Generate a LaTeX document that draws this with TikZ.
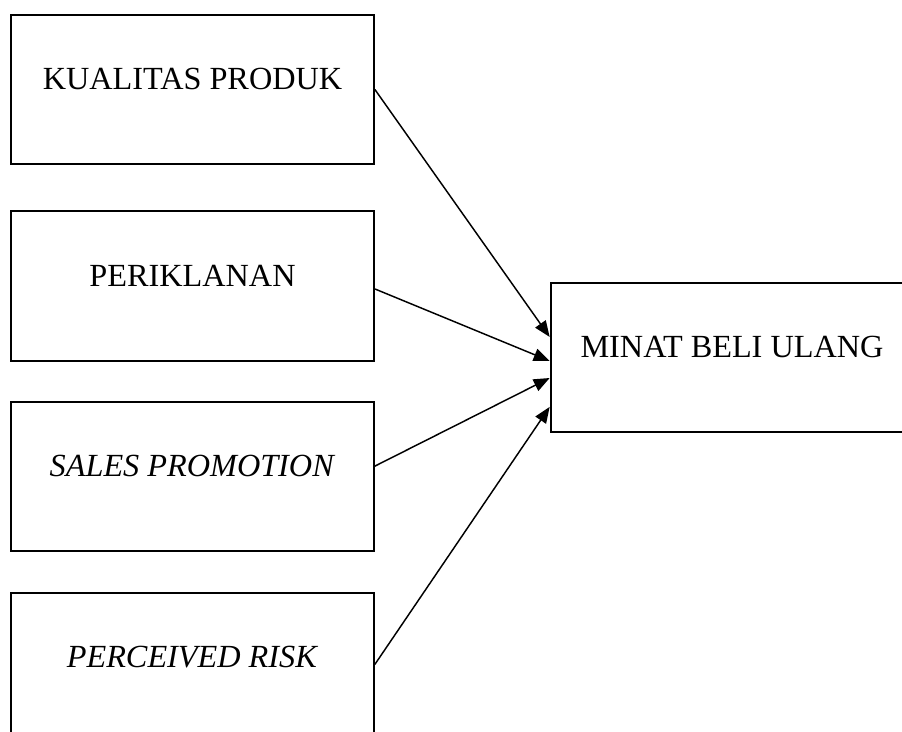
\documentclass[tikz,border=0pt]{standalone}
\usepackage{fontspec}
\setmainfont{Liberation Serif}
\usetikzlibrary{positioning, arrows.meta}
\tikzstyle{varbox} = [rectangle, draw=black, line width=1.5pt, minimum width=272pt, minimum height=112pt, inner sep=0pt, text height=12pt, text depth=12pt, text centered, font=\fontsize{24.2}{28}\selectfont]
\tikzstyle{line} = [draw, line width=1.1pt, -{Triangle[length=12pt, width=9.5pt]}]

\begin{document}
\begin{tikzpicture}[node distance = 143pt, auto]
	\clip (-144.4pt,67.1pt) rectangle (532.1pt,-481.15pt);

	% Independent variables
	\node(kp)  [varbox] {KUALITAS PRODUK};
	\node(pk)  [varbox, below of=kp, node distance=147.4pt] {PERIKLANAN};
	\node(sp)  [varbox, below of=pk] {\textit{SALES PROMOTION}};
	\node(pr)  [varbox, below of=sp] {\textit{PERCEIVED RISK}};

	% Dependent variable
	\node(mbu) [varbox, right of=pk, node distance=404.6pt, yshift=-53.6pt] {MINAT BELI ULANG};

	% Draw edges
	\path [line] (kp.east) -- ([yshift=15.4pt]mbu.west);
	\path [line] ([yshift=-2.2pt]pk.east) -- ([yshift=-2.6pt]mbu.west);
	\path [line] ([yshift=7.9pt]sp.east) -- ([yshift=-15.4pt]mbu.west);
	\path [line] ([yshift=2.2pt]pr.east) -- ([yshift=-37.1pt]mbu.west);
\end{tikzpicture}
\end{document}
